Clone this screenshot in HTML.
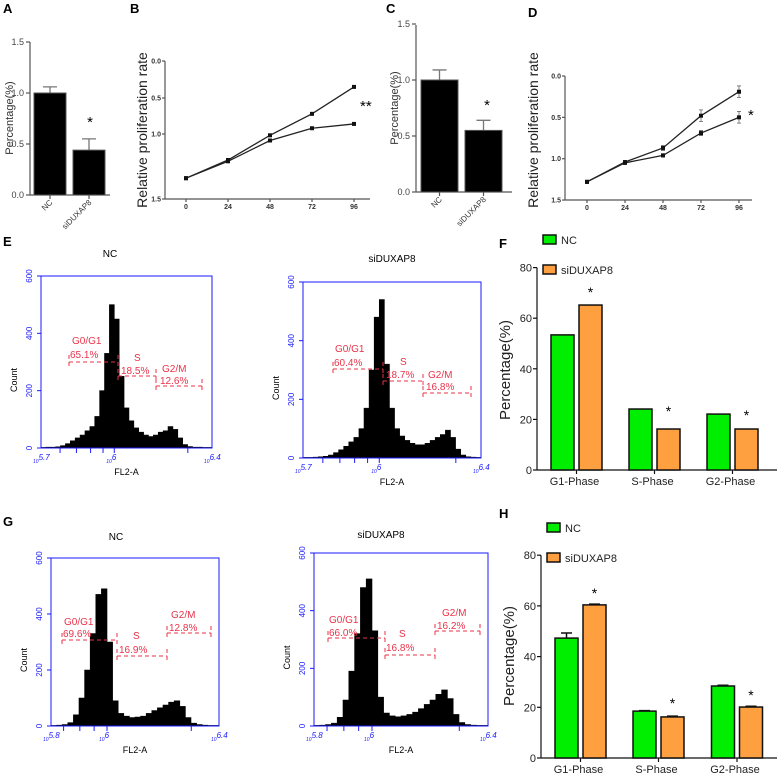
<!DOCTYPE html>
<html><head><meta charset="utf-8">
<style>
html,body{margin:0;padding:0;background:#fff;}
svg{display:block;font-family:"Liberation Sans",Arial,sans-serif;}
.pl{font-size:13px;font-weight:bold;}
.tk{font-size:9px;fill:#444;}
.tkb{font-size:7px;font-weight:bold;fill:#333;}
.ax{stroke:#555;stroke-width:1.2;fill:none;}
.axk{stroke:#111;stroke-width:1.2;fill:none;}
.bl{stroke:#1a1aff;stroke-width:1;fill:none;}
.bt{font-size:8px;fill:#1a1aff;}
.rd{font-size:10px;fill:#e8334a;}
.gate{stroke:#e8334a;stroke-width:1;stroke-dasharray:4,3;fill:none;}
</style></head>
<body>
<svg id="fig" width="777" height="774" viewBox="0 0 777 774" xmlns="http://www.w3.org/2000/svg">
<text class="pl" x="3" y="13">A</text>
<text class="pl" x="130" y="13">B</text>
<text class="pl" x="386" y="13">C</text>
<text class="pl" x="528" y="17">D</text>
<text class="pl" x="3" y="246">E</text>
<text class="pl" x="499" y="248">F</text>
<text class="pl" x="3" y="526">G</text>
<text class="pl" x="499" y="518">H</text>

<text x="13" y="118" font-size="11" fill="#333" text-anchor="middle" transform="rotate(-90 13 118)">Percentage(%)</text>
<text x="147" y="130" font-size="14" fill="#222" text-anchor="middle" transform="rotate(-90 147 130)">Relative proliferation rate</text>
<text x="398" y="108" font-size="11" fill="#333" text-anchor="middle" transform="rotate(-90 398 108)">Percentage(%)</text>
<text x="538" y="130" font-size="14" fill="#222" text-anchor="middle" transform="rotate(-90 538 130)">Relative proliferation rate</text>
<text x="510" y="370" font-size="15" fill="#222" text-anchor="middle" transform="rotate(-90 510 370)">Percentage(%)</text>
<text x="514" y="656" font-size="15" fill="#222" text-anchor="middle" transform="rotate(-90 514 656)">Percentage(%)</text>

<text x="110" y="257" font-size="10" text-anchor="middle">NC</text>
<text x="392" y="262" font-size="10" text-anchor="middle">siDUXAP8</text>
<text x="116" y="540" font-size="10" text-anchor="middle">NC</text>
<text x="381" y="538" font-size="10" text-anchor="middle">siDUXAP8</text>
<g id="dyn"></g>
</svg>
<script>
// ---------- data ----------
const barCats = ["NC", "siDUXAP8"];
const aVals = [1.0, 0.44];
const aErr = [0.06, 0.11];
const cVals = [1.0, 0.55];
const cErr = [0.09, 0.09];
const hours = [0, 24, 48, 72, 96];
const bNC = [1.34, 1.2, 1.01, 0.72, 0.35];
const bSi = [1.34, 1.21, 1.05, 0.92, 0.86];
const dNC = [1.28, 1.04, 0.87, 0.48, 0.19];
const dNCerr = [0.01, 0.02, 0.03, 0.07, 0.07];
const dSi = [1.28, 1.05, 0.96, 0.69, 0.5];
const dSiErr = [0.01, 0.02, 0.02, 0.03, 0.07];
const rateTicks = [0, 0.5, 1.0, 1.5];
const pctTicks = [0, 0.5, 1.0, 1.5];
const phases = ["G1-Phase", "S-Phase", "G2-Phase"];
const fNC = [53.4, 24.1, 22.1];
const fSi = [65.2, 16.2, 16.2];
const hNC = [47.3, 18.5, 28.4];
const hNCerr = [2, 0.2, 0.3];
const hSi = [60.4, 16.2, 20.1];
const hSiErr = [0.3, 0.3, 0.3];
const phaseTicks = [0, 20, 40, 60, 80];
const countTicks = [0, 200, 400, 600];
const eNC = [2,3,3,4,8,15,25,35,45,60,75,110,200,330,500,450,250,140,95,70,55,45,40,45,55,60,75,65,35,12,5,3,3,2,2];
const eSi = [2,2,3,4,6,10,18,28,40,55,70,100,170,300,480,540,320,170,100,75,60,50,45,45,50,60,70,80,95,70,30,10,4,3,2];
const gNC = [2,3,5,12,40,100,200,330,470,490,300,90,45,35,30,32,35,45,55,65,75,85,90,70,30,10,5,3,2,2];
const gSi = [2,3,5,10,30,90,190,320,480,510,330,100,45,35,32,35,40,48,60,75,90,110,125,95,40,12,5,3,2,2];

const NS = "http://www.w3.org/2000/svg";
const root = document.getElementById('dyn');
function mk(tag, attrs, txt){
  const e = document.createElementNS(NS, tag);
  for (const k in attrs) e.setAttribute(k, attrs[k]);
  if (txt !== undefined) e.textContent = txt;
  root.appendChild(e);
  return e;
}
function line(x1,y1,x2,y2,cls){ const l=mk('line',{x1:x1,y1:y1,x2:x2,y2:y2,class:cls});   return l; }

// ---------- A & C ----------
function simpleBars(vals, errs, yOf, x0, step, w, axX, axTop, axBot, axRight, star, pfx){
  line(axX, axTop, axX, axBot, 'ax');
  line(axX, axBot, axRight, axBot, 'ax');
  pctTicks.forEach(t=>{
    const y=yOf(t);
    line(axX-4,y,axX,y,'ax');
    const tx=mk('text',{x:axX-6,y:y+3,class:'tk','text-anchor':'end'},t.toFixed(1));
    
    
  });
  vals.forEach((v,i)=>{
    const x=x0+i*step, cx=x+w/2;
    const e=mk('path',{d:`M${cx},${yOf(v)} V${yOf(v+errs[i])} M${cx-7},${yOf(v+errs[i])} H${cx+7}`,stroke:'#777','stroke-width':1.3,fill:'none'});
    
    
    const r=mk('rect',{x:x,y:yOf(v),width:w,height:yOf(0)-yOf(v),fill:'#000',stroke:'#555','stroke-width':1});
    
    
    line(cx,axBot,cx,axBot+4,'ax');
    const lb=mk('text',{x:cx+3,y:axBot+8,'font-size':8,fill:'#333','text-anchor':'end',transform:`rotate(-45 ${cx+3} ${axBot+8})`},barCats[i]);
    
    
  });
  const s=mk('text',{x:star[0],y:star[1],'font-size':15,'text-anchor':'middle'},'*');
  
  
}
simpleBars(aVals,aErr,v=>195-v*102,34,39,32,30,42,195,110,[90,127],'a');
simpleBars(cVals,cErr,v=>192-v*112,421,44,37,416,25,192,512,[487,110],'c');

// ---------- B & D ----------
function lineChart(series, errsArr, xOf, yOf, axX, axTop, axBot, axRight, starTxt, starPos, pfx){
  line(axX, axTop, axX, axBot, 'ax');
  line(axX, axBot, axRight, axBot, 'ax');
  rateTicks.forEach(t=>{
    const y=yOf(t);
    line(axX-3,y,axX,y,'ax');
    const tx=mk('text',{x:axX-4,y:y+2.5,class:'tkb','text-anchor':'end'},t.toFixed(1));
    
    
  });
  hours.forEach(h=>{
    const x=xOf(h);
    line(x,axBot,x,axBot+3,'ax');
    const tx=mk('text',{x:x,y:axBot+10,class:'tkb','text-anchor':'middle'},String(h));
    
    
  });
  series.forEach((s,si)=>{
    const pts=s.map((v,i)=>xOf(hours[i])+','+yOf(v)).join(' ');
    const pl=mk('polyline',{points:pts,fill:'none',stroke:'#222','stroke-width':1.3});
    
    
    s.forEach((v,i)=>{
      const x=xOf(hours[i]);
      if (errsArr){
        const e=errsArr[si][i];
        const eb=mk('path',{d:`M${x},${yOf(v-e)} V${yOf(v+e)} M${x-2},${yOf(v-e)} H${x+2} M${x-2},${yOf(v+e)} H${x+2}`,stroke:'#666','stroke-width':0.8,fill:'none'});
        
        
      }
      const p=mk('rect',{x:x-2,y:yOf(v)-2,width:4,height:4,fill:'#111'});
      
      
    });
  });
  const st=mk('text',{x:starPos[0],y:starPos[1],'font-size':15},starTxt);
  
  
}
const bTickPos=[61,98,134,199];
function yB(v){
  for(let i=0;i<rateTicks.length-1;i++){
    if(v<=rateTicks[i+1]||i===rateTicks.length-2){
      const f=(v-rateTicks[i])/(rateTicks[i+1]-rateTicks[i]);
      return bTickPos[i]+f*(bTickPos[i+1]-bTickPos[i]);
    }
  }
}
lineChart([bNC,bSi],null,h=>186+h/24*42,yB,165,61,199,370,'**',[360,111],'b');
lineChart([dNC,dSi],[dNCerr,dSiErr],h=>587+h/24*38,v=>76+v*82.7,565,76,200,752,'*',[748,120],'d');

// ---------- Histograms ----------
function hist(counts, lo, hi, x0, x1, y0, y1, pfx){
  const xOf=v=>x0+(v-lo)/(hi-lo)*(x1-x0);
  const yOf=c=>y1-c/600*(y1-y0);
  const bw=(hi-lo)/counts.length;
  let d=`M${x0},${y1}`;
  counts.forEach((c,i)=>{
    d+=` L${xOf(lo+i*bw)},${yOf(c)} L${xOf(lo+(i+1)*bw)},${yOf(c)}`;
  });
  d+=` L${x1},${y1} Z`;
  const p=mk('path',{d:d,fill:'#000',stroke:'#000','stroke-width':0.6});
  
  
  const b=mk('rect',{x:x0,y:y0,width:x1-x0,height:y1-y0,class:'bl'});
  
  
  countTicks.forEach(t=>{
    const y=yOf(t);
    line(x0-4,y,x0,y,'bl');
    const tx=mk('text',{x:x0-9,y:y,class:'bt','text-anchor':'middle',transform:`rotate(-90 ${x0-9} ${y})`},String(t));
    
    
  });
  [5.778,5.845,5.903,5.954,6,6.301].forEach(v=>{ if(v>lo) line(xOf(v),y1,xOf(v),y1+5,'bl'); });
  [[lo,String(lo)],[6,'6'],[hi,String(hi)]].forEach(([v,s])=>{
    const x=xOf(v);
    const t=mk('text',{x:x-8,y:y1+15,class:'bt','font-style':'italic'});
    
    
    const t1=document.createElementNS(NS,'tspan'); t1.setAttribute('font-size','5'); t1.textContent='10'; t.appendChild(t1);
    const t2=document.createElementNS(NS,'tspan'); t2.setAttribute('dy','-3'); t2.textContent=s; t.appendChild(t2);
  });
  const fl=mk('text',{x:(x0+x1)/2,y:y1+27,'font-size':9,'text-anchor':'middle'},'FL2-A');
  
  
  const ct=mk('text',{x:x0-24,y:(y0+y1)/2+18,'font-size':9,'text-anchor':'middle',transform:`rotate(-90 ${x0-24} ${(y0+y1)/2+18})`},'Count');
  
  
}
hist(eNC,5.7,6.4,41,212,276,448,'e-nc');
hist(eSi,5.7,6.4,303,481,282,458,'e-si');
hist(gNC,5.8,6.4,51,219,558,726,'g-nc');
hist(gSi,5.8,6.4,314,488,553,726,'g-si');

function gate(x1,x2,y,name,pct,nx,px,ly1,ly2,pfx){
  const g=mk('path',{d:`M${x1},${y-7} V${y+7} M${x1},${y} H${x2} M${x2},${y-7} V${y+7}`,class:'gate'});
  
  
  const t1=mk('text',{x:nx,y:ly1,class:'rd'},name);
  
  
  const t2=mk('text',{x:px,y:ly2,class:'rd'},pct);
  
  
}
gate(69,118,362,'G0/G1','65.1%',72,70,344,358,'e-nc-g1');
gate(118,156,376,'S','18.5%',134,121,361,374,'e-nc-s');
gate(156,202,386,'G2/M','12.6%',162,160,372,384,'e-nc-g2');
gate(333,383,369,'G0/G1','60.4%',335,334,352,366,'e-si-g1');
gate(383,423,381,'S','18.7%',400,386,365,378,'e-si-s');
gate(423,471,393,'G2/M','16.8%',428,426,378,390,'e-si-g2');
gate(62,117,640,'G0/G1','69.6%',64,63,625,637,'g-nc-g1');
gate(117,167,656,'S','16.9%',133,119,639,653,'g-nc-s');
gate(167,211,633,'G2/M','12.8%',171,169,618,631,'g-nc-g2');
gate(328,385,638,'G0/G1','66.0%',329,329,623,636,'g-si-g1');
gate(385,435,655,'S','16.8%',399,386,637,651,'g-si-s');
gate(435,480,631,'G2/M','16.2%',442,437,616,629,'g-si-g2');

// ---------- F & H ----------
function grouped(nc, si, ncErr, siErr, centers, yOf, axX, axBot, axRight, legY, stars, pfx){
  line(axX, yOf(80), axX, axBot, 'axk');
  line(axX, axBot, axRight, axBot, 'axk');
  phaseTicks.forEach(t=>{
    const y=yOf(t);
    line(axX-4,y,axX,y,'axk');
    const tx=mk('text',{x:axX-5,y:y+4,'font-size':11,fill:'#222','text-anchor':'end'},String(t));
    
    
  });
  centers.forEach((c,i)=>{
    [[nc,ncErr,'#00ee00',-25.5,'nc'],[si,siErr,'#ffa040',2.5,'si']].forEach(([arr,er,col,off,k])=>{
      const v=arr[i];
      if(er){
        const e=mk('path',{d:`M${c+off+11.5},${yOf(v)} V${yOf(v+er[i])} M${c+off+6},${yOf(v+er[i])} H${c+off+17}`,stroke:'#111','stroke-width':1.5,fill:'none'});
        
        
      }
      const r=mk('rect',{x:c+off,y:yOf(v),width:23,height:yOf(0)-yOf(v),fill:col,stroke:'#111','stroke-width':1.5});
      
      
    });
    line(c,axBot,c,axBot+4,'axk');
    const lb=mk('text',{x:c-2,y:axBot+15,'font-size':11,fill:'#222','text-anchor':'middle'},phases[i]);
    
    
    const s=mk('text',{x:c+14,y:stars[i],'font-size':14,'text-anchor':'middle'},'*');
    
    
  });
  const l1=mk('rect',{x:axX+6,y:legY,width:13,height:9,fill:'#00ee00',stroke:'#111','stroke-width':1.5});
  
  
  const t1=mk('text',{x:axX+24,y:legY+9,'font-size':11,fill:'#222'},'NC');
  
  
  const l2=mk('rect',{x:axX+6,y:legY+30,width:13,height:9,fill:'#ffa040',stroke:'#111','stroke-width':1.5});
  
  
  const t2=mk('text',{x:axX+24,y:legY+39,'font-size':11,fill:'#222'},'siDUXAP8');
  
  
}
grouped(fNC,fSi,null,null,[576.5,654.5,732.5],v=>470-v*2.53,537,470,777,235,[297,416,420],'f');
grouped(hNC,hSi,hNCerr,hSiErr,[580.5,658.5,737],v=>758-v*2.535,541,758,777,523,[598,708,700],'h');
</script>
</body></html>
